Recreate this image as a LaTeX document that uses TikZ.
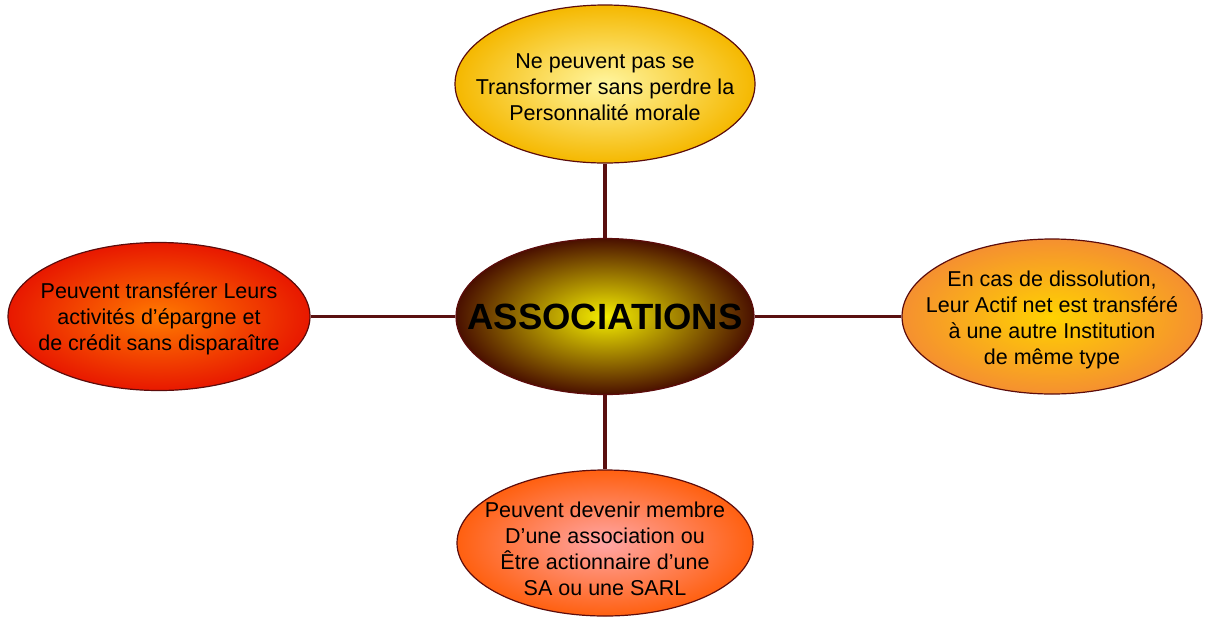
\documentclass[tikz,border=0pt]{standalone}
\usepackage{fontspec}
\setmainfont{Liberation Sans}
\usetikzlibrary{shapes.geometric}
\definecolor{rim}{RGB}{92,12,12}
\definecolor{linkc}{RGB}{90,16,16}
\tikzset{
  bubble/.style={ellipse, draw=rim, line width=1.2pt, inner sep=0pt},
  caption/.style={align=center, inner sep=0pt, font=\fontsize{21.5}{26}\selectfont},
  link/.style={draw=linkc, line width=3.5pt}
}
\begin{document}
\begin{tikzpicture}[x=1pt,y=-1pt]
\useasboundingbox (0,0) rectangle (1209,619);
% centre
\node[bubble, minimum width=298pt, minimum height=156pt,
  inner color={rgb,255:red,245;green,238;blue,0}, outer color={rgb,255:red,74;green,16;blue,0}]
  (c) at (605,316.5) {};
\node[caption, font=\fontsize{36.5}{40}\bfseries\selectfont] (ct) at (c) {ASSOCIATIONS};
% top
\node[bubble, minimum width=300pt, minimum height=158pt,
  inner color={rgb,255:red,255;green,246;blue,160}, outer color={rgb,255:red,245;green,184;blue,0}]
  (t) at (605,84) {};
\node[caption, yshift=-3pt] (tt) at (t) {Ne peuvent pas se\\Transformer sans perdre la\\Personnalité morale};
% left
\node[bubble, minimum width=302pt, minimum height=148pt,
  inner color={rgb,255:red,255;green,122;blue,0}, outer color={rgb,255:red,232;green,24;blue,0}]
  (l) at (159,316.5) {};
\node[caption, yshift=-2pt] (lt) at (l) {Peuvent transférer Leurs\\activités d’épargne et\\de crédit sans disparaître};
% right
\node[bubble, minimum width=300pt, minimum height=155pt,
  inner color={rgb,255:red,255;green,210;blue,0}, outer color={rgb,255:red,245;green,144;blue,48}]
  (r) at (1052,316.5) {};
\node[caption, yshift=-3pt] (rt) at (r) {En cas de dissolution,\\Leur Actif net est transféré\\à une autre Institution\\de même type};
% bottom
\node[bubble, minimum width=296pt, minimum height=146pt,
  inner color={rgb,255:red,255;green,166;blue,166}, outer color={rgb,255:red,255;green,96;blue,16}]
  (b) at (605,543) {};
\node[caption, yshift=-6pt] (bt) at (b) {Peuvent devenir membre\\D’une association ou\\Être actionnaire d’une\\SA ou une SARL};
% connectors
\path[link] (t.south) -- (c.north);
\path[link] (c.south) -- (b.north);
\path[link] (l.east) -- (c.west);
\path[link] (c.east) -- (r.west);
\end{tikzpicture}
\end{document}
